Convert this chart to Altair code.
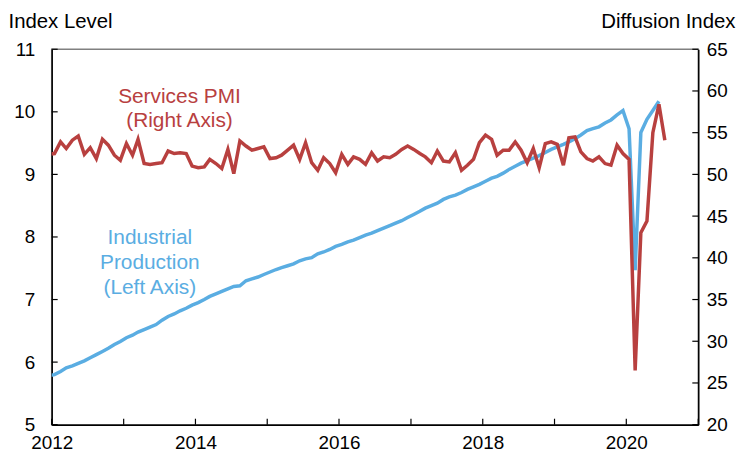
import altair as alt
import pandas as pd

# ---- data (monthly, plotted mid-month) ----
# Industrial production index (left axis): Dec 2011 .. Jun 2020
ip_values = [
    5.78,
    5.80, 5.85, 5.91, 5.94, 5.98, 6.02, 6.07, 6.12, 6.17, 6.22, 6.28, 6.33,
    6.39, 6.43, 6.48, 6.52, 6.56, 6.60, 6.67, 6.73, 6.77, 6.82, 6.86, 6.91,
    6.95, 7.00, 7.05, 7.09, 7.13, 7.17, 7.21, 7.22, 7.30, 7.33, 7.36, 7.40,
    7.44, 7.48, 7.51, 7.54, 7.57, 7.62, 7.65, 7.67, 7.73, 7.76, 7.80, 7.85,
    7.88, 7.92, 7.95, 7.99, 8.03, 8.06, 8.10, 8.14, 8.18, 8.22, 8.26, 8.31,
    8.36, 8.41, 8.46, 8.50, 8.54, 8.60, 8.64, 8.67, 8.71, 8.76, 8.80, 8.84,
    8.89, 8.94, 8.97, 9.02, 9.08, 9.13, 9.18, 9.22, 9.26, 9.30, 9.35, 9.40,
    9.44, 9.48, 9.52, 9.57, 9.63, 9.70, 9.73, 9.76, 9.82, 9.87, 9.95, 10.02,
    9.73, 7.47, 9.67, 9.88, 10.02, 10.17,
]
# Services PMI (right axis): Dec 2011 .. Jul 2020
pmi_values = [
    52.4,
    52.5, 53.9, 53.1, 54.1, 54.6, 52.4, 53.2, 51.9, 54.2, 53.5, 52.3, 51.7,
    53.7, 52.3, 54.2, 51.3, 51.2, 51.3, 51.4, 52.8, 52.5, 52.6, 52.5, 51.0,
    50.8, 50.9, 51.8, 51.3, 50.7, 53.0, 50.1, 54.0, 53.4, 52.9, 53.1, 53.3,
    51.9, 52.0, 52.3, 52.9, 53.5, 51.8, 53.8, 51.4, 50.5, 52.0, 51.3, 50.2,
    52.4, 51.2, 52.1, 51.8, 51.2, 52.6, 51.6, 52.1, 52.0, 52.4, 53.0, 53.4,
    53.0, 52.5, 52.1, 51.4, 52.8, 51.6, 51.5, 52.6, 50.5, 51.1, 51.8, 53.8,
    54.7, 54.2, 52.3, 52.9, 52.9, 53.9, 52.9, 51.4, 53.1, 50.8, 53.7, 53.9,
    53.6, 51.1, 54.4, 54.5, 52.7, 51.9, 51.6, 52.1, 51.3, 51.1, 53.5, 52.5,
    51.8, 26.5, 43.0, 44.4, 55.0, 58.4, 54.1,
]
ip_dates = (pd.date_range("2011-12-01", periods=len(ip_values), freq="MS")
            + pd.Timedelta(days=14)).strftime("%Y-%m-%d").tolist()
pmi_dates = (pd.date_range("2011-12-01", periods=len(pmi_values), freq="MS")
             + pd.Timedelta(days=14)).strftime("%Y-%m-%d").tolist()

year_ticks = [f"{y}-01-01" for y in range(2012, 2022)]
year_labels = [2012, 2014, 2016, 2018, 2020]
left_ticks = [5, 6, 7, 8, 9, 10, 11]
right_ticks = [20, 25, 30, 35, 40, 45, 50, 55, 60, 65]

ip_note = {"date": ["2013-05-14"], "value": [7.88], "label": ["Industrial\nProduction\n(Left Axis)"]}
pmi_note = {"date": ["2013-10-12"], "value": [58.5], "label": ["Services PMI\n(Right Axis)"]}

BLUE = "#5aade2"
RED = "#b8403f"
FONT = "Liberation Sans"
W, H = 651, 378

df_ip = pd.DataFrame({"date": ip_dates, "value": ip_values})
df_pmi = pd.DataFrame({"date": pmi_dates, "value": pmi_values})
df_years = pd.DataFrame({"date": year_ticks})
df_lt = pd.DataFrame({"value": left_ticks})
df_rt = pd.DataFrame({"value": right_ticks})

x_scale = alt.Scale(domain=["2012-01-01", "2021-01-01"])
x_enc = alt.X(
    "date:T", scale=x_scale,
    axis=alt.Axis(values=[alt.DateTime(year=y, month=1, date=1) for y in year_labels],
                  format="%Y", title=None, ticks=False, labelPadding=9,
                  labelFlush=False, grid=False),
)

yl_enc = alt.Y(
    "value:Q", scale=alt.Scale(domain=[5, 11], nice=False),
    axis=alt.Axis(orient="left", values=left_ticks, title="Index Level", titleAngle=0,
                  titleAlign="left", titleBaseline="alphabetic", titleX=-44, titleY=-22,
                  ticks=False, labelPadding=17, grid=False),
)
yr_enc = alt.Y(
    "value:Q", scale=alt.Scale(domain=[20, 65], nice=False),
    axis=alt.Axis(orient="right", values=right_ticks, title="Diffusion Index", titleAngle=0,
                  titleAlign="right", titleBaseline="alphabetic", titleX=37, titleY=-22,
                  ticks=False, labelPadding=8, grid=False),
)

ip_line = alt.Chart(df_ip).mark_line(color=BLUE, strokeWidth=3.5, clip=True).encode(
    x=x_enc, y=yl_enc)
left_tk = alt.Chart(df_lt).mark_rule(color="black", strokeWidth=1.2).encode(
    y=yl_enc, x=alt.value(0), x2=alt.value(6))
bottom_tk = alt.Chart(df_years).mark_rule(color="black", strokeWidth=1.2).encode(
    x=x_enc, y=alt.value(H), y2=alt.value(H - 6))
ip_text = alt.Chart(pd.DataFrame(ip_note)).mark_text(
    color=BLUE, font=FONT, fontSize=21, align="center", baseline="alphabetic",
    lineBreak="\n", lineHeight=25).encode(x=x_enc, y=yl_enc, text="label:N")

pmi_line = alt.Chart(df_pmi).mark_line(color=RED, strokeWidth=3.5, clip=True).encode(
    x=x_enc, y=yr_enc)
right_tk = alt.Chart(df_rt).mark_rule(color="black", strokeWidth=1.2).encode(
    y=yr_enc, x=alt.value(W - 6), x2=alt.value(W))
pmi_text = alt.Chart(pd.DataFrame(pmi_note)).mark_text(
    color=RED, font=FONT, fontSize=21, align="center", baseline="alphabetic",
    lineBreak="\n", lineHeight=24).encode(x=x_enc, y=yr_enc, text="label:N")

left_group = alt.layer(ip_line, left_tk, bottom_tk, ip_text)
right_group = alt.layer(pmi_line, right_tk, pmi_text)

chart = (
    alt.layer(left_group, right_group)
    .resolve_scale(y="independent")
    .properties(width=W, height=H, autosize="none",
                padding={"left": 44, "top": 40, "right": 40, "bottom": 30})
    .configure_view(stroke="#808080", strokeWidth=1.5)
    .configure_axis(labelFont=FONT, labelFontSize=19, labelColor="black",
                    titleFont=FONT, titleFontSize=20.5, titleFontWeight="normal",
                    titleColor="black", domainColor="black", domainWidth=1.5,
                    grid=False)
)

chart.save("out.html", embed_options={"renderer": "svg", "actions": False})
